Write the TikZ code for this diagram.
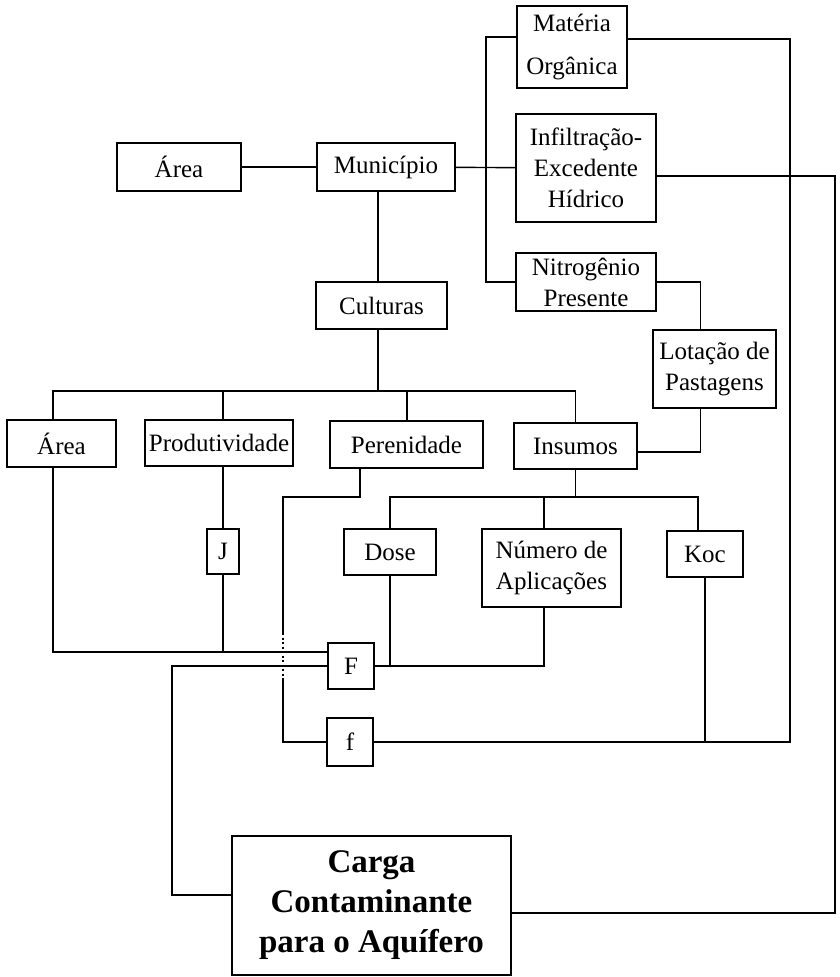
\documentclass[tikz,border=0pt]{standalone}
\usepackage{fontspec}
\setmainfont{Liberation Serif}
\begin{document}
\begin{tikzpicture}[x=1pt, y=-1pt, line width=1.4pt,
    every node/.style={font=\fontsize{25}{31}\selectfont},
    blk/.style 2 args={draw, inner sep=0pt, align=center, minimum width=#1, minimum height=#2}]
  \fill[white] (0,0) rectangle (839,977);
  \useasboundingbox (0,0) rectangle (839,977);
  % top row
  \node[blk={110pt}{82pt}] (mat) at (572,47) {Matéria\\[12pt]Orgânica};
  \node[blk={140pt}{108pt}] (inf) at (586,168) {Infiltração-\\Excedente\\Hídrico};
  \node[blk={140pt}{58pt}] (nit) at (586,282) {Nitrogênio\\Presente};
  \node[blk={124pt}{48pt}] (areaA) at (179,167) {Área};
  \node[blk={138pt}{48pt}] (mun) at (386,167) {Município};
  \node[blk={131pt}{47pt}] (cult) at (381.5,305.5) {Culturas};
  \node[blk={123pt}{78pt}] (lot) at (714.5,369) {Lotação de\\Pastagens};
  % second row
  \node[blk={109pt}{47pt}] (areaB) at (61.5,443.5) {Área};
  \node[blk={148pt}{46pt}] (prod) at (219,443) {Produtividade};
  \node[blk={153pt}{47pt}] (pere) at (406.5,444.5) {Perenidade};
  \node[blk={123pt}{46pt}] (ins) at (575.5,446) {Insumos};
  % third row
  \node[blk={32pt}{45pt}] (J) at (223,551.5) {J};
  \node[blk={92pt}{46pt}] (dose) at (390,552) {Dose};
  \node[blk={139pt}{78pt}] (num) at (551.5,568) {Número de\\Aplicações};
  \node[blk={76pt}{46pt}] (koc) at (705,554) {Koc};
  % factors
  \node[blk={46pt}{46pt}] (F) at (351,666) {F};
  \node[blk={46pt}{48pt}] (f) at (350,742) {f};
  \node[blk={279pt}{139pt}, font=\bfseries\fontsize{33}{40}\selectfont] (carga) at (371.5,905.5) {Carga\\Contaminante\\para o Aquífero};
  % junction points
  \coordinate (jL) at (486,167);
  \coordinate (tb) at (378,391);
  \coordinate (ib) at (575.5,497);
  \coordinate (pj) at (283,497);
  \coordinate (dotA) at (283,633);
  \coordinate (dotB) at (283,679);
  \coordinate (cR1) at (790,742);
  \coordinate (cR2) at (835,913);
  \coordinate (cl) at (172,895);
  % connectors
  \draw (areaA) -- (mun);
  \draw (mun) -- (inf);
  \draw ([yshift=10pt]mat.west) -| (jL |- nit.west) -- (nit.west);
  \draw ([yshift=8pt]mat.east) -| (cR1) -- (f.east);
  \draw ([yshift=-8pt]inf.east) -| (cR2) -- (cR2 -| carga.east);
  \draw (nit.east) -| ([xshift=-14pt]lot.north);
  \draw ([xshift=-14pt]lot.south) |- ([yshift=-6pt]ins.east);
  \draw ([xshift=-8pt]mun.south) -- ([xshift=-8pt]mun.south |- cult.north);
  \draw ([xshift=-3.5pt]cult.south) -- (tb);
  \foreach \n/\dx in {areaB/-8.5, prod/4, pere/0.5, ins/0}
    \draw (tb) -| ([xshift=\dx pt]\n.north);
  \draw (ins.south) -- (ib);
  \foreach \n/\dx in {dose/0, num/-7.5, koc/-7}
    \draw (ib) -| ([xshift=\dx pt]\n.north);
  \draw (J.north) -- (J.north |- prod.south);
  \draw ([xshift=-8.5pt]areaB.south) |- ([yshift=14pt]F.west);
  \draw (J.south) -- (J.south |- 0,652);
  \draw (F.west) -| (cl) -- (cl -| carga.west);
  \draw (dose.south) -- (dose.south |- F.east);
  \draw ([xshift=-7.5pt]num.south) |- (F.east);
  \draw (koc.south) -- (koc.south |- f.east);
  \draw ([xshift=-46.5pt]pere.south) |- (pj) -- (dotA);
  \draw[line width=1.2pt, dash pattern=on 2pt off 2.5pt] (dotA) -- (dotB);
  \draw (dotB) |- (f.west);
\end{tikzpicture}
\end{document}
